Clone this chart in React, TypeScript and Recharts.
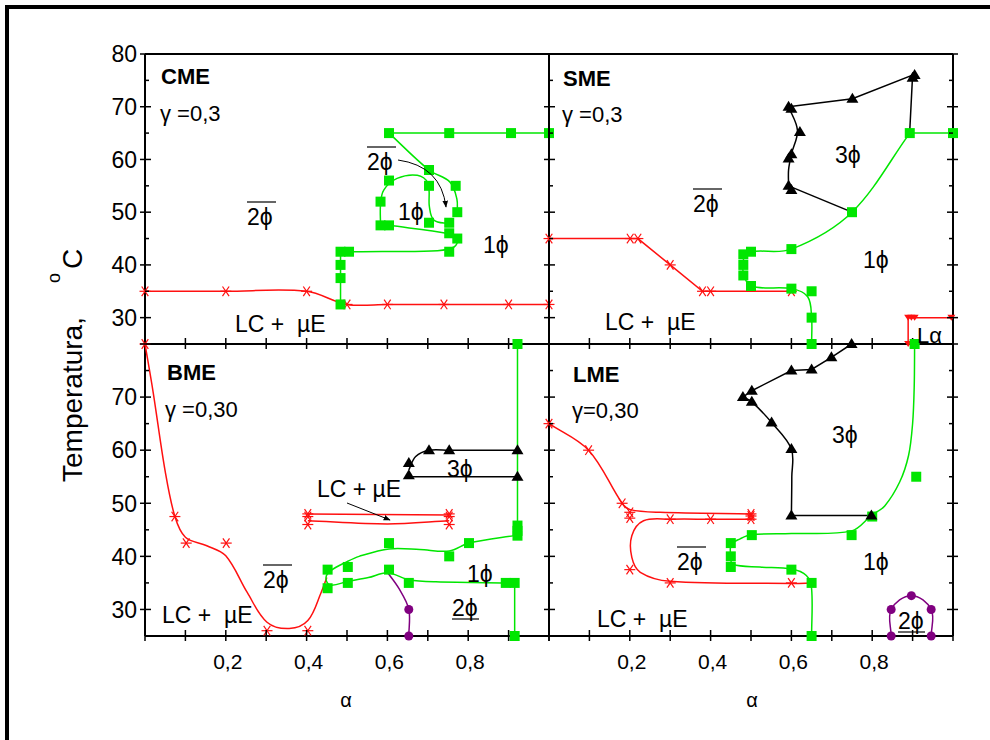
import React from "react";
import { ScatterChart, Scatter, XAxis, YAxis } from "recharts";

type Pt = [number, number];

const RED = "#ff1010";
const GREEN = "#00e600";
const BLACK = "#000000";
const PURPLE = "#800080";
const FONT = '"Liberation Sans", Arial, Helvetica, sans-serif';

// shared axes
const xTicks = [0, 0.1, 0.2, 0.3, 0.4, 0.5, 0.6, 0.7, 0.8, 0.9, 1];
const xTickLabels = [0.2, 0.4, 0.6, 0.8];
const yTicks = [25, 30, 35, 40, 45, 50, 55, 60, 65, 70, 75, 80];
const yLabelsTop = [30, 40, 50, 60, 70, 80];
const yLabelsBottom = [30, 40, 50, 60, 70];

// ---- CME, γ = 0,3 ----
const cmeRed: Pt[] = [[0, 35], [0.2, 35], [0.4, 35], [0.5, 32.5], [0.6, 32.5], [0.74, 32.5], [0.9, 32.5], [1, 32.5]];
const cmeGreenTop: Pt[] = [[0.604, 65], [0.753, 65], [0.906, 65], [1, 65]];
const cmeGreenRight: Pt[] = [[0.604, 65], [0.703, 58], [0.755, 55.7], [0.772, 52.5], [0.773, 50]];
const cmeGreenLoop: Pt[] = [[0.583, 47.5], [0.583, 51.5], [0.591, 54.2], [0.624, 56.4], [0.674, 57], [0.7, 55.5], [0.704, 51], [0.715, 48.5], [0.753, 47.8]];
const cmeGreenMid: Pt[] = [[0.604, 47.5], [0.753, 45.9], [0.773, 44.9], [0.765, 43.4], [0.724, 42.7], [0.6, 42.55], [0.505, 42.5]];
const cmeGreenStep: Pt[] = [[0.505, 42.5], [0.484, 42.5], [0.484, 32.5]];
const cmeSquares: Pt[] = [
  [0.484, 32.5], [0.484, 37.5], [0.484, 40], [0.484, 42.5], [0.505, 42.5], [0.753, 42.5], [0.773, 45], [0.753, 46],
  [0.583, 47.5], [0.604, 47.5], [0.583, 52], [0.604, 56], [0.703, 55], [0.703, 48], [0.753, 48], [0.773, 50],
  [0.769, 55], [0.703, 58], [0.604, 65], [0.753, 65], [0.906, 65], [1, 65],
];

// ---- SME, γ = 0,3 ----
const smeRed: Pt[] = [[0, 45], [0.201, 45], [0.22, 45], [0.3, 40], [0.38, 35], [0.4, 35], [0.6, 35]];
const smeLaLine: Pt[] = [[0.889, 25], [0.889, 30], [1, 30]];
const smeLaMarks: Pt[] = [[0.889, 30], [0.897, 30], [0.905, 30], [0.996, 30], [0.889, 25]];
const smeGreenTop: Pt[] = [[1, 65], [0.893, 65]];
const smeGreen: Pt[] = [[0.893, 65], [0.75, 50], [0.6, 43], [0.5, 42.5], [0.483, 41.5], [0.481, 38.5], [0.5, 36], [0.6, 35.5], [0.64, 34], [0.65, 30], [0.65, 25]];
const smeSquares: Pt[] = [[1, 65], [0.893, 65], [0.75, 50], [0.6, 43], [0.5, 42.5], [0.481, 42], [0.481, 40], [0.481, 38], [0.5, 36], [0.6, 35.5], [0.65, 35], [0.65, 30], [0.65, 25]];
const smeBlackTop: Pt[] = [[0.893, 65.5], [0.9, 76], [0.751, 71.5], [0.593, 70]];
const smeBlackLeft: Pt[] = [[0.593, 70], [0.615, 65.5], [0.6, 61], [0.593, 58], [0.593, 55]];
const smeBlackLow: Pt[] = [[0.593, 55], [0.75, 50]];
const smeTriangles: Pt[] = [[0.905, 76], [0.9, 75.5], [0.751, 71.5], [0.593, 70], [0.6, 69.6], [0.621, 65.2], [0.6, 61], [0.593, 60.2], [0.593, 55], [0.6, 54.2]];

// ---- BME, γ = 0,30 ----
const bmeRedCurve: Pt[] = [[0, 80], [0.02, 71], [0.05, 56], [0.074, 47.5], [0.1, 43.6], [0.153, 42], [0.2, 40.1], [0.253, 33.2], [0.302, 27.6], [0.357, 26.4], [0.403, 27.9], [0.436, 33.2], [0.45, 36]];
const bmeRedUpper: Pt[] = [[0.403, 48], [0.753, 47.8]];
const bmeRedLower: Pt[] = [[0.403, 46.7], [0.6, 46.1], [0.753, 46.7]];
const bmeStars: Pt[] = [[0, 80], [0.074, 47.5], [0.102, 42.5], [0.201, 42.5], [0.302, 26], [0.403, 26], [0.403, 48], [0.403, 47.5], [0.403, 46], [0.753, 48], [0.753, 47.5], [0.753, 46]];
const bmeBlackArc: Pt[] = [[0.653, 56.3], [0.67, 58.8], [0.703, 60], [0.753, 60], [0.922, 60]];
const bmeBlackLow: Pt[] = [[0.653, 55], [0.922, 55]];
const bmeTriangles: Pt[] = [[0.653, 57.6], [0.703, 60], [0.753, 60], [0.922, 60], [0.653, 55.3], [0.922, 55]];
const bmeGreenVert: Pt[] = [[0.922, 80], [0.922, 44]];
const bmeGreenLoop: Pt[] = [
  [0.922, 44], [0.802, 42.5], [0.753, 41], [0.68, 41.3], [0.604, 41.4], [0.53, 40], [0.5, 39], [0.46, 37.3],
  [0.448, 36], [0.458, 34.6], [0.502, 35.3], [0.553, 36], [0.6, 36.9], [0.653, 35.6], [0.72, 35.2], [0.893, 35], [0.915, 35],
];
const bmeGreenDrop: Pt[] = [[0.915, 35], [0.915, 25]];
const bmeSquares: Pt[] = [
  [0.922, 80], [0.922, 45.8], [0.922, 44.8], [0.922, 43.9], [0.802, 42.5], [0.753, 40], [0.604, 42.5], [0.502, 38],
  [0.452, 37.5], [0.452, 34], [0.502, 35], [0.604, 37.5], [0.653, 35], [0.893, 35], [0.915, 35], [0.915, 25],
];
const bmePurple: Pt[] = [[0.6, 37], [0.628, 34], [0.653, 30], [0.653, 25]];
const bmeCircles: Pt[] = [[0.653, 30], [0.653, 25]];

// ---- LME, γ = 0,30 ----
const lmeRedTop: Pt[] = [[0, 65], [0.098, 60], [0.181, 50], [0.201, 48.8], [0.275, 48.3], [0.5, 48]];
const lmeRedC: Pt[] = [[0.5, 47], [0.4, 47], [0.3, 47], [0.234, 46.7], [0.205, 43.9], [0.205, 39.8], [0.226, 37], [0.3, 35.3], [0.604, 34.9], [0.65, 35]];
const lmeStars: Pt[] = [[0, 65], [0.098, 60], [0.181, 50], [0.2, 48.3], [0.2, 47.2], [0.5, 48], [0.5, 47.6], [0.5, 47], [0.3, 47], [0.4, 47], [0.2, 37.5], [0.3, 35], [0.6, 35]];
const lmeBlackTop: Pt[] = [[0.749, 80], [0.699, 77.5], [0.65, 75.2], [0.6, 75], [0.502, 71.2], [0.48, 70]];
const lmeBlackMid: Pt[] = [[0.48, 70], [0.502, 69.1], [0.551, 65.2], [0.6, 60.2], [0.601, 55], [0.6, 47.7]];
const lmeBlackLow: Pt[] = [[0.6, 47.7], [0.798, 47.7]];
const lmeTriangles: Pt[] = [[0.749, 80], [0.699, 77.5], [0.65, 75.2], [0.6, 75], [0.502, 71.2], [0.48, 70], [0.502, 69.1], [0.551, 65.2], [0.6, 60.2], [0.6, 47.7], [0.798, 47.7]];
const lmeGreen: Pt[] = [
  [0.905, 80], [0.904, 72], [0.9, 65], [0.89, 59], [0.868, 54], [0.831, 49.5], [0.798, 47.7], [0.749, 44.8], [0.6, 44.3],
  [0.502, 44.1], [0.473, 43.3], [0.451, 42.2], [0.45, 40], [0.455, 38.5], [0.522, 38], [0.6, 37.6], [0.637, 36.4], [0.65, 33.9], [0.65, 25],
];
const lmeSquares: Pt[] = [[0.905, 80], [0.909, 55], [0.8, 47.5], [0.749, 44], [0.502, 44], [0.45, 42.5], [0.45, 40], [0.45, 38], [0.6, 37.5], [0.65, 35], [0.65, 25]];
const lmePurple: Pt[] = [[0.847, 25], [0.847, 30], [0.897, 32.6], [0.946, 30], [0.946, 25]];
const lmeCircles: Pt[] = [[0.847, 30], [0.897, 32.6], [0.946, 30], [0.847, 25], [0.946, 25]];

// ---------- path builder for the phase boundaries ----------
type XY = { x: number; y: number };

function pathOf(pts: XY[], smooth: boolean) {
  const p = pts.filter((q) => Number.isFinite(q.x) && Number.isFinite(q.y));
  if (!p.length) return "";
  let d = `M${p[0].x},${p[0].y}`;
  if (!smooth) {
    for (let i = 1; i < p.length; i++) d += `L${p[i].x},${p[i].y}`;
    return d;
  }
  const n = p.length;
  const tan = p.map((_, i) => {
    const a = p[Math.max(i - 1, 0)];
    const b = p[Math.min(i + 1, n - 1)];
    const dx = b.x - a.x;
    const dy = b.y - a.y;
    const len = Math.hypot(dx, dy) || 1;
    return [dx / len, dy / len];
  });
  for (let i = 0; i < n - 1; i++) {
    const a = p[i];
    const b = p[i + 1];
    const k = Math.hypot(b.x - a.x, b.y - a.y) / 3;
    d += `C${a.x + tan[i][0] * k},${a.y + tan[i][1] * k} ${b.x - tan[i + 1][0] * k},${b.y - tan[i + 1][1] * k} ${b.x},${b.y}`;
  }
  return d;
}

// ---------- marker symbols ----------
const NoDot = () => <g />;
const Square = ({ cx, cy }: any) => <rect x={cx - 5} y={cy - 5} width={10} height={10} fill={GREEN} />;
const Star = ({ cx, cy }: any) => (
  <g stroke={RED} strokeWidth={1.2}>
    <line x1={cx - 5.5} y1={cy} x2={cx + 5.5} y2={cy} />
    <line x1={cx - 3.3} y1={cy - 4.8} x2={cx + 3.3} y2={cy + 4.8} />
    <line x1={cx - 3.3} y1={cy + 4.8} x2={cx + 3.3} y2={cy - 4.8} />
  </g>
);
const Triangle = ({ cx, cy }: any) => <path d={`M${cx},${cy - 6}L${cx + 6},${cy + 4}L${cx - 6},${cy + 4}Z`} fill={BLACK} />;
const DownTriangle = ({ cx, cy }: any) => <path d={`M${cx - 4},${cy - 3}L${cx + 4},${cy - 3}L${cx},${cy + 3}Z`} fill={RED} />;
const Circle = ({ cx, cy }: any) => <circle cx={cx} cy={cy} r={4.5} fill={PURPLE} />;

type Trace = { pts: Pt[]; color: string; smooth: boolean };
type Marks = { pts: Pt[]; shape: (p: any) => React.ReactElement };
type PanelDef = {
  box: { left: number; top: number; right: number; bottom: number };
  yLabels: number[];
  xLabels: boolean;
  rightAxis: boolean;
  topAxis: boolean;
  traces: Trace[];
  marks: Marks[];
};

const toData = (pts: Pt[]) => pts.map(([a, t]) => ({ a, t }));

const panels: PanelDef[] = [
  {
    box: { left: 145, top: 54, right: 549, bottom: 344 },
    yLabels: yLabelsTop,
    xLabels: false,
    rightAxis: false,
    topAxis: true,
    traces: [
      { pts: cmeRed, color: RED, smooth: true },
      { pts: cmeGreenTop, color: GREEN, smooth: false },
      { pts: cmeGreenRight, color: GREEN, smooth: true },
      { pts: cmeGreenLoop, color: GREEN, smooth: true },
      { pts: cmeGreenMid, color: GREEN, smooth: true },
      { pts: cmeGreenStep, color: GREEN, smooth: false },
    ],
    marks: [
      { pts: cmeRed, shape: Star },
      { pts: cmeSquares, shape: Square },
    ],
  },
  {
    box: { left: 549, top: 54, right: 953, bottom: 344 },
    yLabels: [],
    xLabels: false,
    rightAxis: true,
    topAxis: true,
    traces: [
      { pts: smeRed, color: RED, smooth: false },
      { pts: smeLaLine, color: RED, smooth: false },
      { pts: smeGreenTop, color: GREEN, smooth: false },
      { pts: smeGreen, color: GREEN, smooth: true },
      { pts: smeBlackTop, color: BLACK, smooth: false },
      { pts: smeBlackLeft, color: BLACK, smooth: true },
      { pts: smeBlackLow, color: BLACK, smooth: false },
    ],
    marks: [
      { pts: smeRed, shape: Star },
      { pts: smeLaMarks, shape: DownTriangle },
      { pts: smeSquares, shape: Square },
      { pts: smeTriangles, shape: Triangle },
    ],
  },
  {
    box: { left: 145, top: 344, right: 549, bottom: 636 },
    yLabels: yLabelsBottom,
    xLabels: true,
    rightAxis: false,
    topAxis: false,
    traces: [
      { pts: bmeRedCurve, color: RED, smooth: true },
      { pts: bmeRedUpper, color: RED, smooth: false },
      { pts: bmeRedLower, color: RED, smooth: true },
      { pts: bmeBlackArc, color: BLACK, smooth: true },
      { pts: bmeBlackLow, color: BLACK, smooth: false },
      { pts: bmeGreenVert, color: GREEN, smooth: false },
      { pts: bmeGreenLoop, color: GREEN, smooth: true },
      { pts: bmeGreenDrop, color: GREEN, smooth: false },
      { pts: bmePurple, color: PURPLE, smooth: true },
    ],
    marks: [
      { pts: bmeStars, shape: Star },
      { pts: bmeSquares, shape: Square },
      { pts: bmeTriangles, shape: Triangle },
      { pts: bmeCircles, shape: Circle },
    ],
  },
  {
    box: { left: 549, top: 344, right: 953, bottom: 636 },
    yLabels: [],
    xLabels: true,
    rightAxis: true,
    topAxis: false,
    traces: [
      { pts: lmeRedTop, color: RED, smooth: true },
      { pts: lmeRedC, color: RED, smooth: true },
      { pts: lmeBlackTop, color: BLACK, smooth: false },
      { pts: lmeBlackMid, color: BLACK, smooth: true },
      { pts: lmeBlackLow, color: BLACK, smooth: false },
      { pts: lmeGreen, color: GREEN, smooth: true },
      { pts: lmePurple, color: PURPLE, smooth: true },
    ],
    marks: [
      { pts: lmeStars, shape: Star },
      { pts: lmeSquares, shape: Square },
      { pts: lmeTriangles, shape: Triangle },
      { pts: lmeCircles, shape: Circle },
    ],
  },
];

const AXIS = { stroke: BLACK, strokeWidth: 2 };
const fmt = (v: number) => String(v).replace(".", ",");

// y ticks cross the frame: majors stick out both ways, minors only inward
const yTick = (dir: number, labels: number[]) => (p: any) => {
  const v = p.payload.value;
  const major = v % 10 === 0;
  return (
    <g>
      <line x1={p.x - dir * (major ? 5 : 0)} x2={p.x + dir * (major ? 6 : 4)} y1={p.y} y2={p.y} stroke={BLACK} strokeWidth={1.5} />
      {labels.includes(v) && (
        <text x={p.x - 8} y={p.y + 8.3} textAnchor="end" fontSize={23} fontFamily={FONT} fill={BLACK}>
          {v}
        </text>
      )}
    </g>
  );
};

const xTick = (labelled: boolean) => (p: any) => {
  const v = p.payload.value;
  return (
    <g>
      <line x1={p.x} x2={p.x} y1={p.y - 6} y2={p.y + 5} stroke={BLACK} strokeWidth={1.5} />
      {labelled && xTickLabels.includes(v) && (
        <text x={p.x + 2} y={p.y + 33} textAnchor="middle" fontSize={21} fontFamily={FONT} fill={BLACK}>
          {fmt(v)}
        </text>
      )}
    </g>
  );
};

function Panel({ def }: { def: PanelDef }) {
  const W = 990;
  const H = 740;
  const yW = 40;
  const xH = 40;
  const margin = {
    left: def.box.left - yW,
    right: W - def.box.right - (def.rightAxis ? 1 : 0),
    top: def.box.top - (def.topAxis ? 1 : 0),
    bottom: H - def.box.bottom - xH,
  };
  return (
    <div style={{ position: "absolute", left: 0, top: 0 }}>
      <ScatterChart width={W} height={H} margin={margin} style={{ overflow: "visible" }}>
        <XAxis
          dataKey="a"
          type="number"
          domain={[0, 1]}
          ticks={xTicks}
          interval={0}
          tick={xTick(def.xLabels)}
          tickLine={false}
          tickSize={0}
          tickMargin={0}
          axisLine={AXIS}
          height={xH}
        />
        {def.topAxis && (
          <XAxis xAxisId="top" orientation="top" type="number" domain={[0, 1]} allowDataOverflow height={1} tick={false} tickLine={false} axisLine={AXIS} />
        )}
        <YAxis
          dataKey="t"
          type="number"
          domain={[25, 80]}
          ticks={yTicks}
          interval={0}
          tick={yTick(1, def.yLabels)}
          tickLine={false}
          tickSize={0}
          tickMargin={0}
          axisLine={AXIS}
          width={yW}
        />
        {def.rightAxis && (
          <YAxis
            yAxisId="right"
            orientation="right"
            type="number"
            domain={[25, 80]}
            allowDataOverflow
            ticks={yTicks}
            interval={0}
            tick={yTick(-1, [])}
            tickLine={false}
            tickSize={0}
            tickMargin={0}
            axisLine={AXIS}
            width={1}
          />
        )}
        {def.traces.map((tr, i) => (
          <Scatter
            key={`tr${i}`}
            data={toData(tr.pts)}
            shape={NoDot}
            line={(lp: any) => <path d={pathOf(lp.points, tr.smooth)} fill="none" stroke={tr.color} strokeWidth={1.5} />}
            isAnimationActive={false}
          />
        ))}
        {def.marks.map((mk, i) => (
          <Scatter key={`mk${i}`} data={toData(mk.pts)} shape={mk.shape} isAnimationActive={false} />
        ))}
      </ScatterChart>
    </div>
  );
}

// ---------- annotation layer ----------
function Phase({ x, y, n, bar }: { x: number; y: number; n: string; bar?: "over" | "under" }) {
  return (
    <g>
      <text x={x} y={y} fontSize={23} fontFamily={FONT} fill={BLACK}>
        {n}ϕ
      </text>
      {bar === "over" && <line x1={x} x2={x + 29} y1={y - 23} y2={y - 23} stroke={BLACK} strokeWidth={1.2} />}
      {bar === "under" && <line x1={x} x2={x + 27} y1={y + 3} y2={y + 3} stroke={BLACK} strokeWidth={1.2} />}
    </g>
  );
}

function Label({ x, y, s, bold, size = 22 }: { x: number; y: number; s: string; bold?: boolean; size?: number }) {
  return (
    <text x={x} y={y} fontSize={size} fontWeight={bold ? "bold" : "normal"} fontFamily={FONT} fill={BLACK} style={{ whiteSpace: "pre" }}>
      {s}
    </text>
  );
}

function Annotations() {
  return (
    <svg width={990} height={740} style={{ position: "absolute", left: 0, top: 0, pointerEvents: "none" }}>
      <defs>
        <marker id="head" viewBox="0 0 10 10" refX="9" refY="5" markerWidth="7" markerHeight="7" orient="auto">
          <path d="M0,1L10,5L0,9Z" fill={BLACK} />
        </marker>
      </defs>

      <Label x={161} y={84} s="CME" bold />
      <Label x={160} y={121} s="γ =0,3" />
      <Phase x={247} y={225} n="2" bar="over" />
      <Phase x={367} y={170} n="2" bar="over" />
      <Phase x={398} y={220} n="1" />
      <Phase x={483} y={253} n="1" />
      <Label x={235} y={332} s="LC +  µE" size={23} />
      <path d="M398,160 Q441,166 446,207" fill="none" stroke={BLACK} strokeWidth={1} markerEnd="url(#head)" />

      <Label x={563} y={86} s="SME" bold />
      <Label x={562} y={122} s="γ =0,3" />
      <Phase x={835} y={163} n="3" />
      <Phase x={693} y={212} n="2" bar="over" />
      <Phase x={863} y={268} n="1" />
      <Label x={605} y={330} s="LC +  µE" size={23} />
      <Label x={917} y={343} s="Lα" />

      <Label x={167} y={380} s="BME" bold />
      <Label x={165} y={417} s="γ =0,30" />
      <Label x={317} y={497} s="LC + µE" size={23} />
      <path d="M347,503 L390,520" fill="none" stroke={BLACK} strokeWidth={1} markerEnd="url(#head)" />
      <Phase x={447} y={477} n="3" />
      <Phase x={263} y={588} n="2" bar="over" />
      <Phase x={467} y={582} n="1" />
      <Phase x={452} y={616} n="2" bar="under" />
      <Label x={162} y={623} s="LC +  µE" size={23} />

      <Label x={573} y={382} s="LME" bold />
      <Label x={572} y={418} s="γ=0,30" />
      <Phase x={832} y={443} n="3" />
      <Phase x={677} y={570} n="2" bar="over" />
      <Phase x={863} y={570} n="1" />
      <Label x={597} y={627} s="LC +  µE" size={23} />
      <Phase x={898} y={629} n="2" bar="under" />

      <text x={346} y={707} textAnchor="middle" fontSize={20} fontFamily={FONT}>α</text>
      <text x={752} y={707} textAnchor="middle" fontSize={20} fontFamily={FONT}>α</text>

      <text transform="translate(82,482) rotate(-90)" fontSize={28} fontFamily={FONT} style={{ whiteSpace: "pre" }}>
        Temperatura,
        <tspan fontSize={18} dy={-22} dx={34}>o</tspan>
        <tspan dy={22} dx={4}>C</tspan>
      </text>
    </svg>
  );
}

export default function App() {
  return (
    <div style={{ position: "absolute", left: 0, top: 0, width: 990, height: 740, background: "#fff", overflow: "hidden" }}>
      <div style={{ position: "absolute", left: 5, top: 5, width: 1200, height: 1000, borderTop: "4px solid #000", borderLeft: "4px solid #000" }} />
      {panels.map((p, i) => (
        <Panel key={i} def={p} />
      ))}
      <Annotations />
    </div>
  );
}
